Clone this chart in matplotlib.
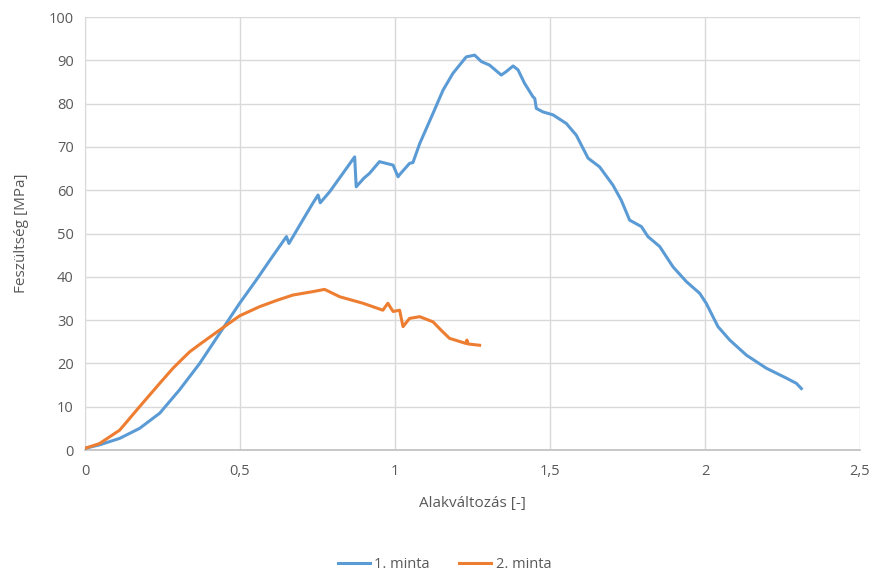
import matplotlib.pyplot as plt
from matplotlib.ticker import FuncFormatter

plt.rcParams['font.family'] = ['Open Sans', 'DejaVu Sans']

# 1. minta
x1 = [0, 0.047, 0.112, 0.176, 0.241, 0.305, 0.37, 0.434, 0.499, 0.553, 0.6,
      0.65, 0.658, 0.7, 0.735, 0.752, 0.759, 0.79, 0.832, 0.87, 0.875, 0.9,
      0.918, 0.95, 0.994, 1.01, 1.015, 1.047, 1.058, 1.08, 1.123, 1.155, 1.187,
      1.23, 1.257, 1.279, 1.305, 1.343, 1.359, 1.381, 1.397, 1.418, 1.445, 1.451,
      1.456, 1.477, 1.51, 1.553, 1.585, 1.623, 1.66, 1.703, 1.73, 1.757, 1.795,
      1.816, 1.854, 1.897, 1.94, 1.983, 2.004, 2.042, 2.08, 2.134, 2.198, 2.263,
      2.295, 2.311]
y1 = [0.4, 1.2, 2.7, 5.0, 8.5, 13.9, 20.0, 26.9, 33.9, 39.3, 44.2,
      49.3, 47.7, 52.8, 57.0, 58.9, 57.1, 59.7, 63.9, 67.7, 60.8, 62.8,
      63.9, 66.6, 65.8, 63.1, 63.6, 66.2, 66.4, 70.8, 77.8, 83.1, 87.0,
      90.8, 91.2, 89.7, 88.9, 86.6, 87.4, 88.7, 87.8, 84.7, 81.6, 81.2,
      78.9, 78.1, 77.4, 75.4, 72.7, 67.4, 65.4, 61.2, 57.7, 53.1, 51.6,
      49.3, 47.0, 42.3, 38.9, 36.2, 33.9, 28.5, 25.4, 21.9, 18.9, 16.6,
      15.4, 14.2]

# 2. minta
x2 = [0, 0.047, 0.112, 0.176, 0.241, 0.284, 0.315, 0.338, 0.37, 0.434, 0.499,
      0.563, 0.62, 0.671, 0.736, 0.773, 0.822, 0.897, 0.961, 0.977, 0.994,
      1.015, 1.026, 1.047, 1.08, 1.123, 1.15, 1.176, 1.23, 1.232, 1.236, 1.273]
y2 = [0.4, 1.5, 4.6, 10.0, 15.4, 18.9, 21.1, 22.7, 24.4, 27.7, 31.0,
      33.1, 34.6, 35.8, 36.6, 37.1, 35.4, 33.9, 32.3, 33.9, 32.0,
      32.3, 28.5, 30.4, 30.8, 29.6, 27.6, 25.8, 24.6, 25.4, 24.5, 24.2]

x_ticks = [0, 0.5, 1, 1.5, 2, 2.5]
y_ticks = list(range(0, 101, 10))

fig = plt.figure(figsize=(8.75, 5.77), dpi=100)
ax = fig.add_axes([0.0971, 0.22, 0.8857, 0.7505])

ax.plot(x1, y1, color='#5B9BD5', lw=2.2, label='1. minta', zorder=3)
ax.plot(x2, y2, color='#ED7D31', lw=2.2, label='2. minta', zorder=3)

ax.set_xlim(0, 2.5)
ax.set_ylim(0, 100)
ax.set_xticks(x_ticks)
ax.set_yticks(y_ticks)
ax.xaxis.set_major_formatter(FuncFormatter(lambda v, p: ('%g' % v).replace('.', ',')))
ax.grid(True, color='#D9D9D9', lw=1)
ax.set_axisbelow(True)

for s in ['top', 'right']:
    ax.spines[s].set_visible(False)
ax.spines['bottom'].set_color('#BFBFBF')
ax.spines['bottom'].set_linewidth(1.2)
ax.spines['left'].set_color('#D9D9D9')
ax.tick_params(length=0, labelsize=10.5, colors='#595959', pad=10)
ax.tick_params(axis='y', pad=8)

ax.set_xlabel('Alakváltozás [-]', fontsize=11, color='#595959', labelpad=12)
ax.set_ylabel('Feszültség [MPa]', fontsize=11, color='#595959', labelpad=14)

fig.legend(loc='center', bbox_to_anchor=(0.508, 0.021), ncol=2, frameon=False,
           fontsize=10.5, labelcolor='#595959', handlelength=2.2, columnspacing=2.0,
           handletextpad=0.3)

fig.savefig('out.png', dpi=100)
